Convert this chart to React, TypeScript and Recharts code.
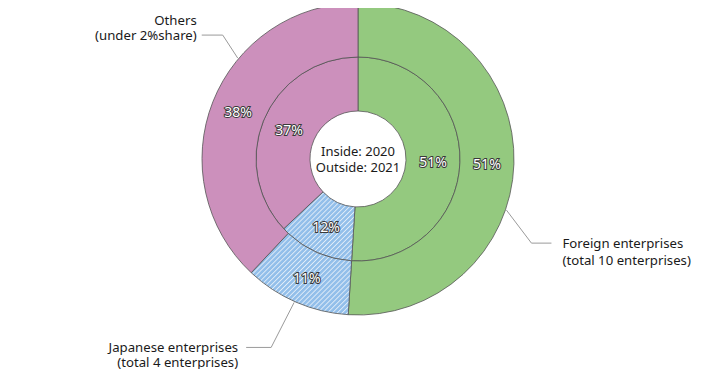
import React from "react";
import { PieChart, Pie, Cell, Customized } from "recharts";

const categories = ["Foreign enterprises", "Japanese enterprises", "Others"];
const subLabels = ["(total 10 enterprises)", "(total 4 enterprises)", "(under 2%share)"];
const share2021 = [51, 11, 38]; // outside ring
const share2020 = [51, 12, 37]; // inside ring
const centerLines = ["Inside: 2020", "Outside: 2021"];

const FONT = "'Noto Sans', 'DejaVu Sans', sans-serif";
const fills = ["#94C97F", "url(#jpHatch)", "#CC90BC"];
const RAD = Math.PI / 180;
const CX = 350;
const CY = 151;

// hand placed leader lines, like the source chart
const callouts = [
  { angle: -19, ex: 25, ey: 33, len: 20, gap: 11, side: "right", lead: 0, step: 17 },
  { angle: -114, ex: -23, ey: 45, len: 25, gap: 8, side: "left", lead: 0, step: 15 },
  { angle: 140, ex: -15, ey: -23, len: 21, gap: 5, side: "left", lead: -15, step: 15 },
];

const rows2021 = categories.map((name, i) => ({ name, value: share2021[i], sub: subLabels[i] }));
const rows2020 = categories.map((name, i) => ({ name, value: share2020[i] }));

const pctStyle = {
  fill: "#fff",
  stroke: "#3a3a3a",
  strokeWidth: 2,
  paintOrder: "stroke",
  fontSize: 14,
  fontFamily: FONT,
} as React.CSSProperties;

const pctText = (p: any) => {
  const r = (p.innerRadius + p.outerRadius) / 2;
  const x = p.cx + r * Math.cos(-p.midAngle * RAD);
  const y = p.cy + r * Math.sin(-p.midAngle * RAD);
  return (
    <text x={x} y={y} textAnchor="middle" dominantBaseline="central" style={pctStyle}>
      {p.value}%
    </text>
  );
};

const outerLabel = (p: any) => {
  const c = callouts[p.index];
  const r = p.outerRadius + 1;
  const ax = p.cx + r * Math.cos(c.angle * RAD);
  const ay = p.cy - r * Math.sin(c.angle * RAD);
  const bx = ax + c.ex;
  const by = ay + c.ey;
  const dir = c.side === "right" ? 1 : -1;
  const hx = bx + dir * c.len;
  const tx = hx + dir * c.gap;
  const y1 = by + c.lead;
  const anchor = c.side === "right" ? "start" : "end";
  return (
    <g>
      {pctText(p)}
      <polyline points={`${ax},${ay} ${bx},${by} ${hx},${by}`} fill="none" stroke="#9a9a9a" strokeWidth={1} />
      <text x={tx} y={y1} textAnchor={anchor} fontSize={13.2} fontFamily={FONT} fill="#1a1a1a" dominantBaseline="central">
        {p.name}
      </text>
      <text x={tx} y={y1 + c.step} textAnchor={anchor} fontSize={13.2} fontFamily={FONT} fill="#1a1a1a" dominantBaseline="central">
        {p.payload.sub}
      </text>
    </g>
  );
};

const CenterText = () => (
  <g>
    <text x={CX} y={CY - 8} textAnchor="middle" fontSize={13} fontFamily={FONT} fill="#1a1a1a" dominantBaseline="central">
      {centerLines[0]}
    </text>
    <text x={CX} y={CY + 8} textAnchor="middle" fontSize={13} fontFamily={FONT} fill="#1a1a1a" dominantBaseline="central">
      {centerLines[1]}
    </text>
  </g>
);

export default function App() {
  return (
    <div style={{ position: "relative", width: 696, height: 369, marginBottom: -8 }}>
      <svg width={0} height={0} style={{ position: "absolute" }}>
        <defs>
          <pattern id="jpHatch" patternUnits="userSpaceOnUse" width={3.5} height={3.5} patternTransform="rotate(45)">
            <rect width={3.5} height={3.5} fill="#93BFEA" />
            <line x1={0} y1={0} x2={0} y2={3.5} stroke="#fff" strokeWidth={1.3} />
          </pattern>
        </defs>
      </svg>
      <PieChart width={696} height={369} margin={{ top: 0, right: 0, bottom: 0, left: 0 }}>
        <Pie
          data={rows2020}
          dataKey="value"
          cx={CX}
          cy={CY}
          innerRadius={48}
          outerRadius={102}
          startAngle={90}
          endAngle={-270}
          stroke="#555"
          strokeWidth={0.8}
          label={pctText}
          labelLine={false}
          isAnimationActive={false}
        >
          {rows2020.map((_, i) => (
            <Cell key={i} fill={fills[i]} />
          ))}
        </Pie>
        <Pie
          data={rows2021}
          dataKey="value"
          cx={CX}
          cy={CY}
          innerRadius={102}
          outerRadius={156}
          startAngle={90}
          endAngle={-270}
          stroke="#555"
          strokeWidth={0.8}
          label={outerLabel}
          labelLine={false}
          isAnimationActive={false}
        >
          {rows2021.map((_, i) => (
            <Cell key={i} fill={fills[i]} />
          ))}
        </Pie>
        <Customized component={CenterText} />
      </PieChart>
    </div>
  );
}
